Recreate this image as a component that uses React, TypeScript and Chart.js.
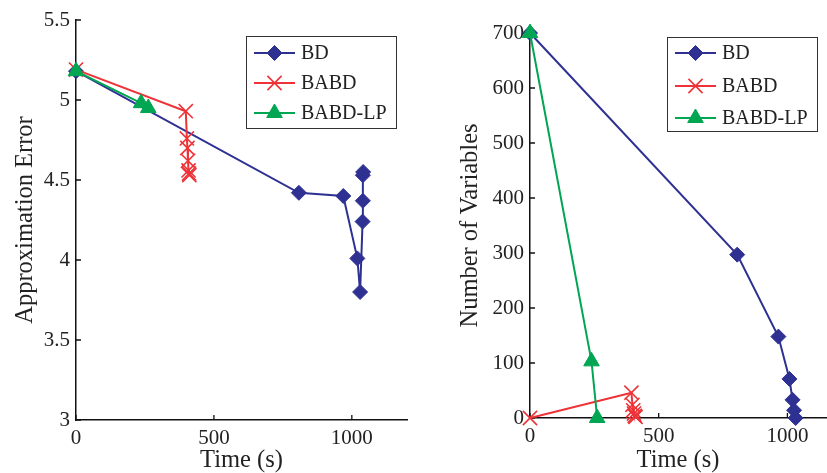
import React, { useEffect, useRef } from 'react';
import { Chart, registerables } from 'chart.js';
import { drawPoint } from 'chart.js/helpers';

Chart.register(...registerables);

const seriesNames = ['BD', 'BABD', 'BABD-LP'];
const seriesColors = ['#2E3192', '#EE3338', '#00A651'];
const seriesMarkers = ['rectRot', 'crossRot', 'triangle'];

// Left panel: approximation error vs time
const errTimeBD = [0, 808, 969, 1020, 1030, 1039, 1040, 1040, 1041];
const errBD = [5.18, 4.42, 4.40, 4.01, 3.80, 4.24, 4.37, 4.53, 4.55];
const errTimeBABD = [0, 398, 402, 404, 406, 408, 410, 411];
const errBABD = [5.19, 4.93, 4.76, 4.70, 4.62, 4.56, 4.54, 4.53];
const errTimeLP = [0, 236, 262];
const errLP = [5.18, 4.98, 4.95];

// Right panel: number of variables vs time
const varTimeBD = [0, 805, 965, 1008, 1020, 1026, 1032];
const varBD = [700, 297, 148, 71, 33, 14, 0];
const varTimeBABD = [0, 394, 398, 401, 404, 407, 410];
const varBABD = [0, 46, 24, 14, 8, 4, 2];
const varTimeLP = [0, 239, 261];
const varLP = [700, 103, 0];

const timeTicks = [0, 500, 1000];
const errTicks = [3, 3.5, 4, 4.5, 5, 5.5];
const varTicks = [0, 100, 200, 300, 400, 500, 600, 700];

const FONT = '"Liberation Serif", "Times New Roman", serif';
const markerRadius = [7.5, 10, 9];
const markerBorder = [1, 1.6, 1];

function makeDatasets(xs: number[][], ys: number[][]) {
  return seriesNames.map((name, i) => ({
    label: name,
    data: xs[i].map((t, j) => ({ x: t, y: ys[i][j] })),
    borderColor: seriesColors[i],
    backgroundColor: seriesColors[i],
    pointStyle: seriesMarkers[i],
    pointRadius: markerRadius[i],
    pointBorderWidth: markerBorder[i],
    borderWidth: 2,
    showLine: true,
    clip: false as any,
    order: [2, 1, 0][i],
  }));
}

function scaleOpts(axis: 'x' | 'y', min: number, max: number, tickVals: number[], title: string, size: number, titlePad: number) {
  return {
    type: 'linear',
    min,
    max,
    afterBuildTicks: (s: any) => {
      s.ticks = tickVals.map((v) => ({ value: v }));
    },
    afterFit: (s: any) => {
      if (axis === 'y') {
        s.width = size;
        s.paddingTop = 0;
        s.paddingBottom = 0;
      } else {
        s.height = size;
        s.paddingLeft = 0;
        s.paddingRight = 0;
      }
    },
    grid: { display: false, drawTicks: false },
    border: { display: true, color: '#111', width: 1.5 },
    ticks: {
      callback: (v: any) => String(v),
      font: { family: FONT, size: 21 },
      color: '#222',
      padding: 6,
      maxRotation: 0,
      autoSkip: false,
    },
    title: {
      display: true,
      text: title,
      font: { family: FONT, size: 24.5 },
      color: '#222',
      padding: axis === 'y' ? { top: titlePad, bottom: 0 } : { top: 0, bottom: titlePad },
    },
  };
}

const innerTicks = {
  id: 'innerTicks',
  beforeDatasetsDraw(chart: any) {
    const { ctx, chartArea, scales } = chart;
    ctx.save();
    ctx.strokeStyle = '#111';
    ctx.lineWidth = 1.3;
    ctx.beginPath();
    scales.x.ticks.forEach((t: any) => {
      const px = scales.x.getPixelForValue(t.value);
      ctx.moveTo(px, chartArea.bottom);
      ctx.lineTo(px, chartArea.bottom - 5);
    });
    scales.y.ticks.forEach((t: any) => {
      const py = scales.y.getPixelForValue(t.value);
      ctx.moveTo(chartArea.left, py);
      ctx.lineTo(chartArea.left + 5, py);
    });
    ctx.stroke();
    ctx.restore();
  },
};

const boxLegend = {
  id: 'boxLegend',
  afterDraw(chart: any, _args: any, opts: any) {
    const { ctx } = chart;
    const { left, top, width, height, rows } = opts;
    ctx.save();
    ctx.fillStyle = '#fff';
    ctx.fillRect(left, top, width, height);
    ctx.strokeStyle = '#333';
    ctx.lineWidth = 1;
    ctx.strokeRect(left + 0.5, top + 0.5, width, height);
    seriesNames.forEach((name, i) => {
      const y = top + rows[i];
      ctx.strokeStyle = seriesColors[i];
      ctx.fillStyle = seriesColors[i];
      ctx.lineWidth = 2;
      ctx.beginPath();
      ctx.moveTo(left + 8, y);
      ctx.lineTo(left + 49, y);
      ctx.stroke();
      ctx.lineWidth = markerBorder[i];
      drawPoint(ctx, { pointStyle: seriesMarkers[i] as any, radius: markerRadius[i], rotation: 0, borderWidth: markerBorder[i] } as any, left + 28.5, y);
      ctx.fillStyle = '#222';
      ctx.font = `20px ${FONT}`;
      ctx.textBaseline = 'middle';
      ctx.textAlign = 'left';
      ctx.fillText(name, left + 55, y + 1);
    });
    ctx.restore();
  },
};

function PlotCanvas({ makeConfig, left, width }: { makeConfig: () => any; left: number; width: number }) {
  const ref = useRef<HTMLCanvasElement>(null);
  useEffect(() => {
    const chart = new Chart(ref.current as HTMLCanvasElement, makeConfig());
    return () => chart.destroy();
  }, []);
  return (
    <canvas
      ref={ref}
      width={width}
      height={473}
      style={{ position: 'absolute', left, top: 0, width, height: 473 }}
    />
  );
}

function errorConfig() {
  return {
    type: 'scatter',
    data: {
      datasets: makeDatasets([errTimeBD, errTimeBABD, errTimeLP], [errBD, errBABD, errLP]),
    },
    options: {
      responsive: false,
      animation: false,
      events: [],
      layout: { autoPadding: false, padding: { left: 0, top: 20, right: 13, bottom: 0 } },
      scales: {
        x: scaleOpts('x', 0, 1200, timeTicks, 'Time (s)', 53, -2),
        y: scaleOpts('y', 3, 5.5, errTicks, 'Approximation Error', 76, 11),
      },
      plugins: {
        legend: { display: false },
        tooltip: { enabled: false },
        boxLegend: { left: 246, top: 36, width: 150, height: 92, rows: [17, 47, 77] },
      },
    },
    plugins: [innerTicks, boxLegend],
  };
}

function variablesConfig() {
  return {
    type: 'scatter',
    data: {
      datasets: makeDatasets([varTimeBD, varTimeBABD, varTimeLP], [varBD, varBABD, varLP]),
    },
    options: {
      responsive: false,
      animation: false,
      events: [],
      layout: { autoPadding: false, padding: { left: 0, top: 33, right: 1, bottom: 0 } },
      scales: {
        x: scaleOpts('x', 0, 1150, timeTicks, 'Time (s)', 55, -2),
        y: scaleOpts('y', 0, 700, varTicks, 'Number of Variables', 90, 16),
      },
      plugins: {
        legend: { display: false },
        tooltip: { enabled: false },
        boxLegend: { left: 227, top: 37, width: 150, height: 94, rows: [16, 49, 81] },
      },
    },
    plugins: [innerTicks, boxLegend],
  };
}

export default function App() {
  return (
    <div style={{ position: 'absolute', left: 0, top: 0, width: 827, height: 473, background: '#fff', overflow: 'hidden' }}>
      <PlotCanvas makeConfig={errorConfig} left={0} width={420} />
      <PlotCanvas makeConfig={variablesConfig} left={440} width={387} />
    </div>
  );
}
